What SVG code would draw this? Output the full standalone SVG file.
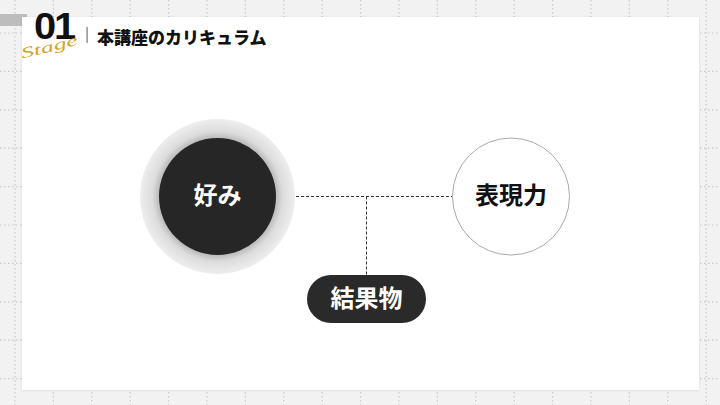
<svg xmlns="http://www.w3.org/2000/svg" width="720" height="405" viewBox="0 0 720 405">
<style>
.grid{stroke:#c9c9c9;stroke-width:1.2;stroke-dasharray:1.5 2.5;fill:none}
.conn{stroke:#333;stroke-width:1;stroke-dasharray:3 2;fill:none}
.jp{font-family:"Noto Sans CJK JP","Noto Sans",sans-serif;font-weight:700;text-anchor:middle}
</style>
<defs>
<radialGradient id="halo" cx="0.5" cy="0.5" r="0.5">
<stop offset="0.74" stop-color="#b5b5b5"/>
<stop offset="0.84" stop-color="#dcdcdc"/>
<stop offset="1" stop-color="#eeeeee"/>
</radialGradient>
<filter id="sh" x="-5%" y="-5%" width="110%" height="110%">
<feDropShadow dx="0" dy="0.5" stdDeviation="1" flood-color="#000" flood-opacity="0.12"/>
</filter>
</defs>
<rect x="0" y="0" width="720" height="405" fill="#f2f2f2"/>
<g id="grid">
<path class="grid" d="M15 0V405M53.4 0V405M91.8 0V405M130.2 0V405M168.6 0V405M207 0V405M245.4 0V405M283.8 0V405M322.2 0V405M360.6 0V405M399 0V405M437.4 0V405M475.8 0V405M514.2 0V405M552.6 0V405M591 0V405M629.4 0V405M667.8 0V405M706.2 0V405"/>
<path class="grid" d="M0 33H720M0 71.4H720M0 109.8H720M0 148.2H720M0 186.6H720M0 225H720M0 263.4H720M0 301.8H720M0 340.2H720M0 378.6H720"/>
</g>
<rect x="0" y="14" width="27" height="12" fill="#bdbdbd"/>
<rect x="22" y="17" width="677" height="373" fill="#ffffff" filter="url(#sh)"/>
<g id="header">
<text x="34" y="39" font-family="Liberation Sans,Arial,sans-serif" font-weight="700" font-size="37" fill="#111" letter-spacing="-2" textLength="40" lengthAdjust="spacingAndGlyphs">01</text>
<text x="20" y="52" font-family="Liberation Serif,serif" font-style="italic" font-size="15" fill="#d4a42a" transform="rotate(-14 48 46)" textLength="58" lengthAdjust="spacingAndGlyphs">Stage</text>
<rect x="86.5" y="27" width="1.2" height="16" fill="#777"/>
<text x="97" y="44" font-family="Noto Sans CJK JP,Noto Sans,sans-serif" font-weight="900" font-size="17" fill="#111">本講座のカリキュラム</text>
</g>
<g id="connectors">
<path class="conn" d="M276 196.5H452"/>
<path class="conn" d="M366.5 196.5V275"/>
</g>
<g id="node-konomi">
<circle cx="217.5" cy="196.5" r="77.5" fill="url(#halo)"/>
<circle cx="217.5" cy="196.5" r="58.5" fill="#262626"/>
<text class="jp" x="217.5" y="204" font-size="24" fill="#fff">好み</text>
</g>
<g id="node-hyogenryoku">
<circle cx="511" cy="196.5" r="58.5" fill="#fff" stroke="#aaa" stroke-width="1"/>
<text class="jp" x="511" y="204" font-size="24" fill="#111">表現力</text>
</g>
<g id="node-kekkabutsu">
<rect x="307" y="275" width="119" height="48" rx="24" fill="#2a2a2a"/>
<text class="jp" x="366.5" y="307" font-size="24" fill="#fff">結果物</text>
</g>
</svg>
